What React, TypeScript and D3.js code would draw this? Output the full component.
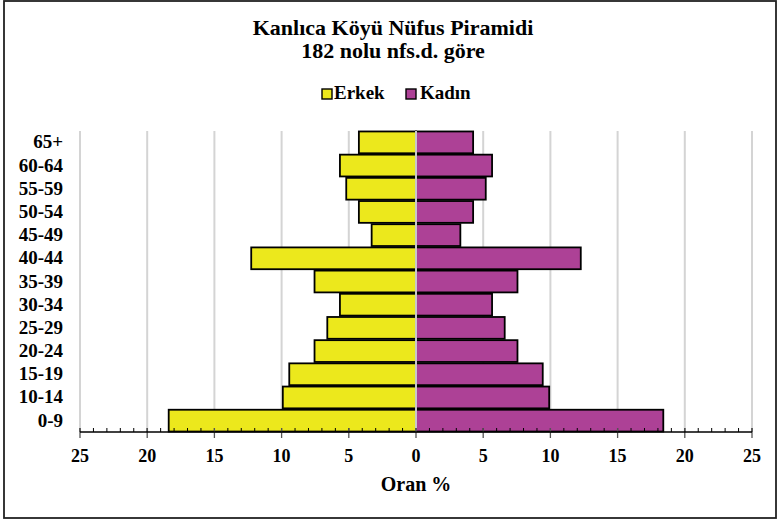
import React, { useEffect } from "react";
import * as d3 from "d3";

// yaş grupları (üstten alta)
const ageGroups = ["65+", "60-64", "55-59", "50-54", "45-49", "40-44", "35-39", "30-34", "25-29", "20-24", "15-19", "10-14", "0-9"];
const erkek = [4.25, 5.66, 5.19, 4.25, 3.3, 12.26, 7.55, 5.66, 6.6, 7.55, 9.43, 9.91, 18.4];
const kadin = [4.25, 5.66, 5.19, 4.25, 3.3, 12.26, 7.55, 5.66, 6.6, 7.55, 9.43, 9.91, 18.4];
const majorTicks = [-25, -20, -15, -10, -5, 0, 5, 10, 15, 20, 25];

const W = 779;
const H = 524;
const FONT = "'Liberation Serif', 'Times New Roman', serif";
const YELLOW = "#ECE81C";
const PURPLE = "#AD4196";

export default function App() {
  useEffect(() => {
    document.body.style.margin = "0";
  }, []);

  const x = d3.scaleLinear().domain([-25, 25]).range([80, 752]);
  const y = d3.scaleBand().domain(ageGroups).range([131, 432]).paddingInner(0.06).paddingOuter(0.02);
  const minorTicks = d3.range(-25, 26, 1);

  return (
    <svg width={W} height={H} style={{ display: "block" }} fontFamily={FONT} fontWeight="bold">
      <rect x={0} y={0} width={W} height={H} fill="#fff" />
      <rect x={4} y={1} width={772} height={517} fill="none" stroke="#222" strokeWidth={1.8} />

      <text x={393} y={35} textAnchor="middle" fontSize={22}>Kanlıca Köyü Nüfus Piramidi</text>
      <text x={393} y={58} textAnchor="middle" fontSize={22}>182 nolu nfs.d. göre</text>

      {/* legend */}
      <rect x={322} y={89} width={10} height={10} fill={YELLOW} stroke="#000" strokeWidth={1.4} />
      <text x={334} y={99} fontSize={19}>Erkek</text>
      <rect x={406} y={89} width={10} height={10} fill={PURPLE} stroke="#000" strokeWidth={1.4} />
      <text x={420} y={99} fontSize={19}>Kadın</text>

      {/* grid */}
      {majorTicks.map((t) => (
        <line key={"g" + t} x1={x(t)} x2={x(t)} y1={131} y2={432} stroke="#d4d4d4" strokeWidth={2} />
      ))}

      {/* bars */}
      {ageGroups.map((g, i) => (
        <g key={g}>
          <rect x={x(-erkek[i])} y={y(g)} width={x(0) - x(-erkek[i])} height={y.bandwidth()}
            fill={YELLOW} stroke="#000" strokeWidth={1.8} />
          <rect x={x(0)} y={y(g)} width={x(kadin[i]) - x(0)} height={y.bandwidth()}
            fill={PURPLE} stroke="#000" strokeWidth={1.8} />
        </g>
      ))}
      <line x1={x(0)} x2={x(0)} y1={131} y2={432} stroke="#c8c8c8" strokeWidth={2} />

      {/* y labels */}
      {ageGroups.map((g) => (
        <text key={"l" + g} x={63} y={(y(g) as number) + y.bandwidth() / 2 + 6} textAnchor="end" fontSize={19}>{g}</text>
      ))}

      {/* x axis */}
      {minorTicks.map((t) => (
        <line key={"m" + t} x1={x(t)} x2={x(t)} y1={428} y2={432} stroke="#000" strokeWidth={1} />
      ))}
      {majorTicks.map((t) => (
        <line key={"M" + t} x1={x(t)} x2={x(t)} y1={428} y2={438} stroke="#555" strokeWidth={1.3} />
      ))}
      <line x1={x(-25)} x2={x(25)} y1={432} y2={432} stroke="#000" strokeWidth={1.3} />
      {majorTicks.map((t) => (
        <text key={"t" + t} x={x(t)} y={462} textAnchor="middle" fontSize={18}>{Math.abs(t)}</text>
      ))}
      <text x={416} y={491} textAnchor="middle" fontSize={20}>Oran %</text>
    </svg>
  );
}
